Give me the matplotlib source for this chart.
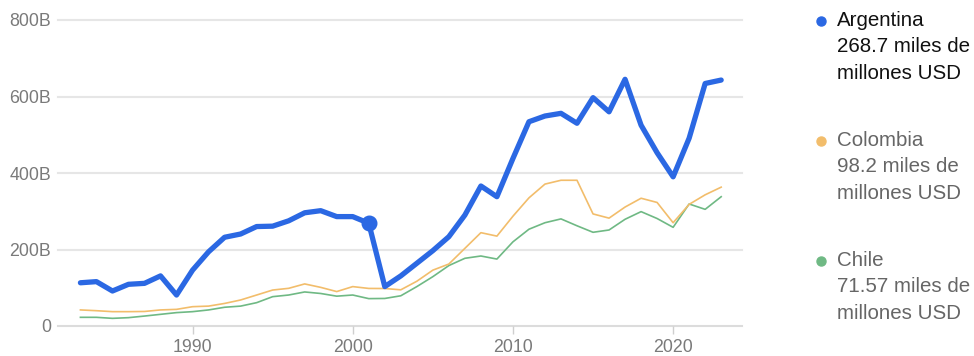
import matplotlib
matplotlib.use("Agg")
import matplotlib.pyplot as plt
from matplotlib.lines import Line2D

plt.rcParams['font.family'] = ['Liberation Sans', 'DejaVu Sans']

years = list(range(1983, 2024))
argentina = [113, 116, 91.5, 109, 111.5, 131, 81, 146, 194, 232, 240.5, 260, 261, 275, 296,
             301.5, 286, 286, 268.7, 103, 131, 164, 197, 233.5, 290, 366, 338, 438, 534, 549,
             556, 530, 597, 560, 645, 525, 453, 390, 491, 634, 643]
colombia = [42, 40, 37.5, 37.5, 38, 42, 43.5, 50.5, 52, 59, 68, 81, 94, 98.5, 110,
            101, 90, 103, 98.2, 98, 94.6, 117, 146, 162, 203, 244, 235, 287, 335, 371,
            381, 381, 293, 282, 311, 334, 323, 270, 318, 343, 363]
chile = [22.7, 22.7, 20, 21.8, 26, 30.5, 35, 37.5, 42, 49, 52, 61, 76.7, 81, 89,
         85, 78, 81, 71.57, 72, 79, 103, 129, 158, 177, 183, 175, 220, 253, 270,
         280, 262, 245, 251, 279, 299, 281, 258, 319, 305, 338]

names = ["Argentina", "Colombia", "Chile"]
legend_values = ["268.7 miles de\nmillones USD", "98.2 miles de\nmillones USD", "71.57 miles de\nmillones USD"]
highlight_year = 2001
yticks = [0, 200, 400, 600, 800]
ytick_labels = ["0", "200B", "400B", "600B", "800B"]
xticks = [1990, 2000, 2010, 2020]

c_arg = "#2b68e3"
c_col = "#f2bd6b"
c_chi = "#6fb984"

fig = plt.figure(figsize=(9.74, 3.56), dpi=100)
ax = fig.add_axes([58/974, 30/356, (742-58)/974, 306/356])

ax.set_xlim(1981.6, 2024.3)
ax.set_ylim(0, 800)

for y in yticks:
    ax.axhline(y, color="#e6e6e6" if y else "#dcdcdc", lw=1.5, zorder=0, clip_on=False)

ax.plot(years, chile, color=c_chi, lw=1.2, zorder=2)
ax.plot(years, colombia, color=c_col, lw=1.2, zorder=3)
ax.plot(years, argentina, color=c_arg, lw=3.8, zorder=4, solid_joinstyle='round', solid_capstyle='round')
hi = years.index(highlight_year)
ax.plot([years[hi]], [argentina[hi]], 'o', color=c_arg, ms=10.5, zorder=5)

for s in ax.spines.values():
    s.set_visible(False)
ax.set_yticks(yticks)
ax.set_yticklabels(ytick_labels)
ax.set_xticks(xticks)
ax.set_xticklabels([str(x) for x in xticks])
ax.tick_params(axis='y', length=0, pad=5, labelsize=12.8, labelcolor="#7a7a7a")
ax.tick_params(axis='x', length=6, width=1, color="#cfcfcf", pad=3, labelsize=12.8, labelcolor="#7a7a7a", direction='out')

# legend
colors = [c_arg, c_col, c_chi]
tops = [20, 140, 260]
for name, val, col, ty in zip(names, legend_values, colors, tops):
    tcol = "#111111" if name == "Argentina" else "#666666"
    fig.add_artist(Line2D([821/974], [1 - (ty + 0.7)/356], marker='o', color=col, ms=6.5,
                          transform=fig.transFigure, linestyle='none'))
    fig.text(837/974, 1 - (ty - 9)/356, name + "\n" + val, fontsize=14.8, color=tcol,
             va='top', ha='left', linespacing=1.5)

fig.savefig("out.png", dpi=100)
